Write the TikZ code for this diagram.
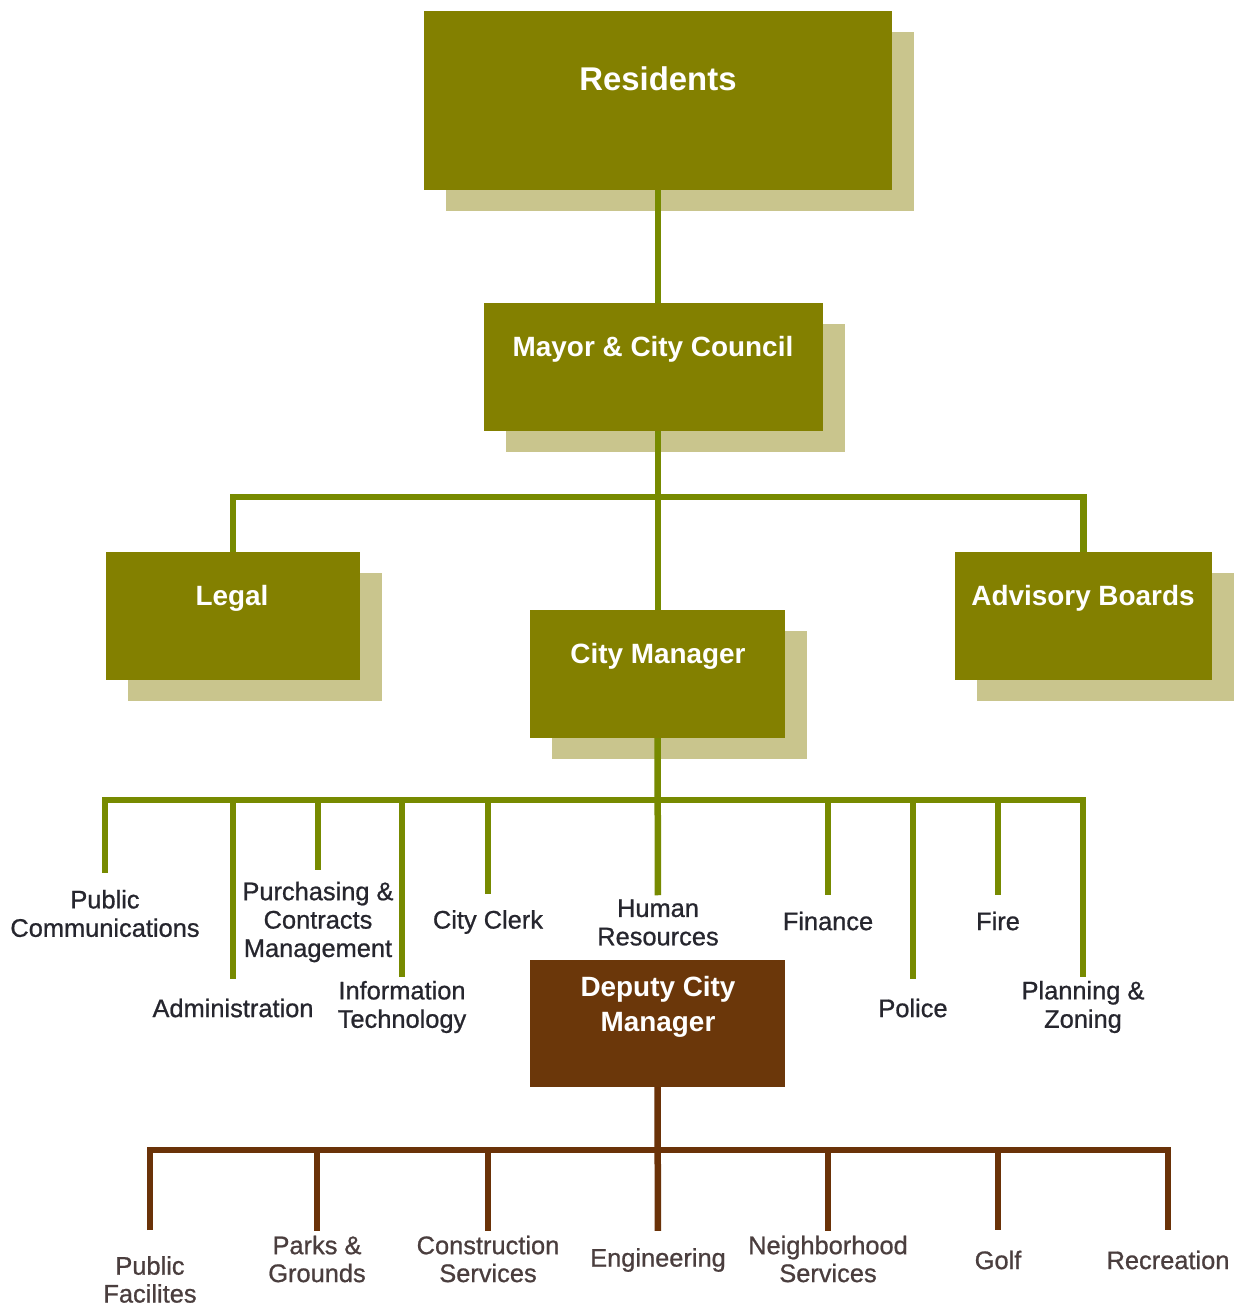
\documentclass[tikz,border=0pt]{standalone}
\usepackage{fontspec}
\setmainfont{Liberation Sans}
\newfontfamily\labfont[FakeBold=0.8]{Liberation Sans}
\usetikzlibrary{shadows}
\definecolor{olivebox}{HTML}{838000}
\definecolor{shadowc}{HTML}{C9C58D}
\definecolor{glinec}{HTML}{778A00}
\definecolor{brownbox}{HTML}{6B370A}
\definecolor{blinec}{HTML}{6A3208}
\definecolor{labtxt}{HTML}{26262E}
\definecolor{labtxtb}{HTML}{4A3E3E}
\tikzset{
  box/.style={rectangle, fill=olivebox, inner sep=0pt,
    general shadow={fill=shadowc, shadow xshift=22bp, shadow yshift=-21bp}},
  dbox/.style={rectangle, fill=brownbox, inner sep=0pt},
  boxtxt/.style={text=white, font=\bfseries\fontsize{28}{35}\selectfont, align=center, inner sep=0pt},
  bigtxt/.style={text=white, font=\bfseries\fontsize{33}{38}\selectfont, align=center, inner sep=0pt},
  lab/.style={text=labtxt, font=\labfont\fontsize{25.5}{28.5}\selectfont, align=center, inner sep=0pt},
  labb/.style={text=labtxtb, font=\labfont\fontsize{25.5}{28}\selectfont, align=center, inner sep=0pt},
  gconn/.style={draw=glinec, line width=6.5bp},
  bconn/.style={draw=blinec, line width=6.5bp}
}
\begin{document}
\begin{tikzpicture}[x=1bp, y=-1bp]
\useasboundingbox[fill=white] (0,0) rectangle (1239,1307);

% boxes
\node[box, minimum width=468bp, minimum height=179bp] (res) at (658,100.5) {};
\node[box, minimum width=339bp, minimum height=128bp] (mayor) at (653.5,367) {};
\node[box, minimum width=254bp, minimum height=128bp] (legal) at (233,616) {};
\node[box, minimum width=257bp, minimum height=128bp] (adv) at (1083.5,616) {};
\node[box, minimum width=255bp, minimum height=128bp] (cm) at (657.5,674) {};
\node[dbox, minimum width=255bp, minimum height=127bp] (dcm) at (657.5,1023.5) {};

% box texts
\node[bigtxt] (rest) at (658,79) {Residents};
\node[boxtxt] (mayort) at (653,349) {Mayor \& City Council};
\node[boxtxt] (legalt) at (232,598) {Legal};
\node[boxtxt] (advt) at (1083,598) {Advisory Boards};
\node[boxtxt] (cmt) at (658,656) {City Manager};
\node[boxtxt] (dcmt) at (658,1006.5) {Deputy City\\Manager};

% labels under City Manager
\node[lab] (pc) at (105,913.5) {Public\\Communications};
\node[lab] (ad) at (233,1008) {Administration};
\node[lab] (pu) at (318,922) {Purchasing \&\\Contracts\\Management};
\node[lab] (it) at (402,1007) {Information\\Technology};
\node[lab] (cc) at (488,922) {City Clerk};
\node[lab] (hr) at (658,922.5) {Human\\Resources};
\node[lab] (fi) at (828,921) {Finance};
\node[lab] (po) at (913,1008) {Police};
\node[lab] (fr) at (998,921) {Fire};
\node[lab] (pz) at (1083,1007) {Planning \&\\Zoning};

% labels under Deputy City Manager
\node[labb] (pf) at (150,1279.5) {Public\\Facilites};
\node[labb] (pg) at (317,1259) {Parks \&\\Grounds};
\node[labb] (cs) at (488,1259) {Construction\\Services};
\node[labb] (en) at (658,1260) {Engineering};
\node[labb] (ns) at (828,1259) {Neighborhood\\Services};
\node[labb] (go) at (998,1260) {Golf};
\node[labb] (re) at (1168,1260) {Recreation};

% connectors, top
\draw[gconn] (res.south) -- (res.south |- mayor.north);
\draw[gconn] (res.south |- mayor.south) -- (res.south |- cm.north);
\coordinate (bus1) at (658,497);
\draw[gconn] (legal.north) |- (bus1) -| (adv.north);

% connectors, City Manager
\coordinate (bus2) at (658,800);
\draw[gconn, shorten >=4bp] (cm.south) -- (hr.north);
\draw[gconn, shorten <=17bp, shorten >=4bp] (pc.north) |- (bus2) -| (pz.north);
\draw[gconn, shorten >=19bp] (bus2 -| ad.north) -- (ad.north);
\draw[gconn, shorten >=12bp] (bus2 -| pu.north) -- (pu.north);
\draw[gconn, shorten >=4bp] (bus2 -| it.north) -- (it.north);
\draw[gconn, shorten >=16bp] (bus2 -| cc.north) -- (cc.north);
\draw[gconn, shorten >=16bp] (bus2 -| fi.north) -- (fi.north);
\draw[gconn, shorten >=19bp] (bus2 -| po.north) -- (po.north);
\draw[gconn, shorten >=16bp] (bus2 -| fr.north) -- (fr.north);

% connectors, Deputy City Manager
\coordinate (bus3) at (658,1150);
\draw[bconn, shorten >=17bp] (dcm.south) -- (en.north);
\draw[bconn, shorten <=26bp, shorten >=20bp] (pf.north) |- (bus3) -| (re.north);
\draw[bconn, shorten >=5bp] (bus3 -| pg.north) -- (pg.north);
\draw[bconn, shorten >=5bp] (bus3 -| cs.north) -- (cs.north);
\draw[bconn, shorten >=5bp] (bus3 -| ns.north) -- (ns.north);
\draw[bconn, shorten >=20bp] (bus3 -| go.north) -- (go.north);
\end{tikzpicture}
\end{document}
